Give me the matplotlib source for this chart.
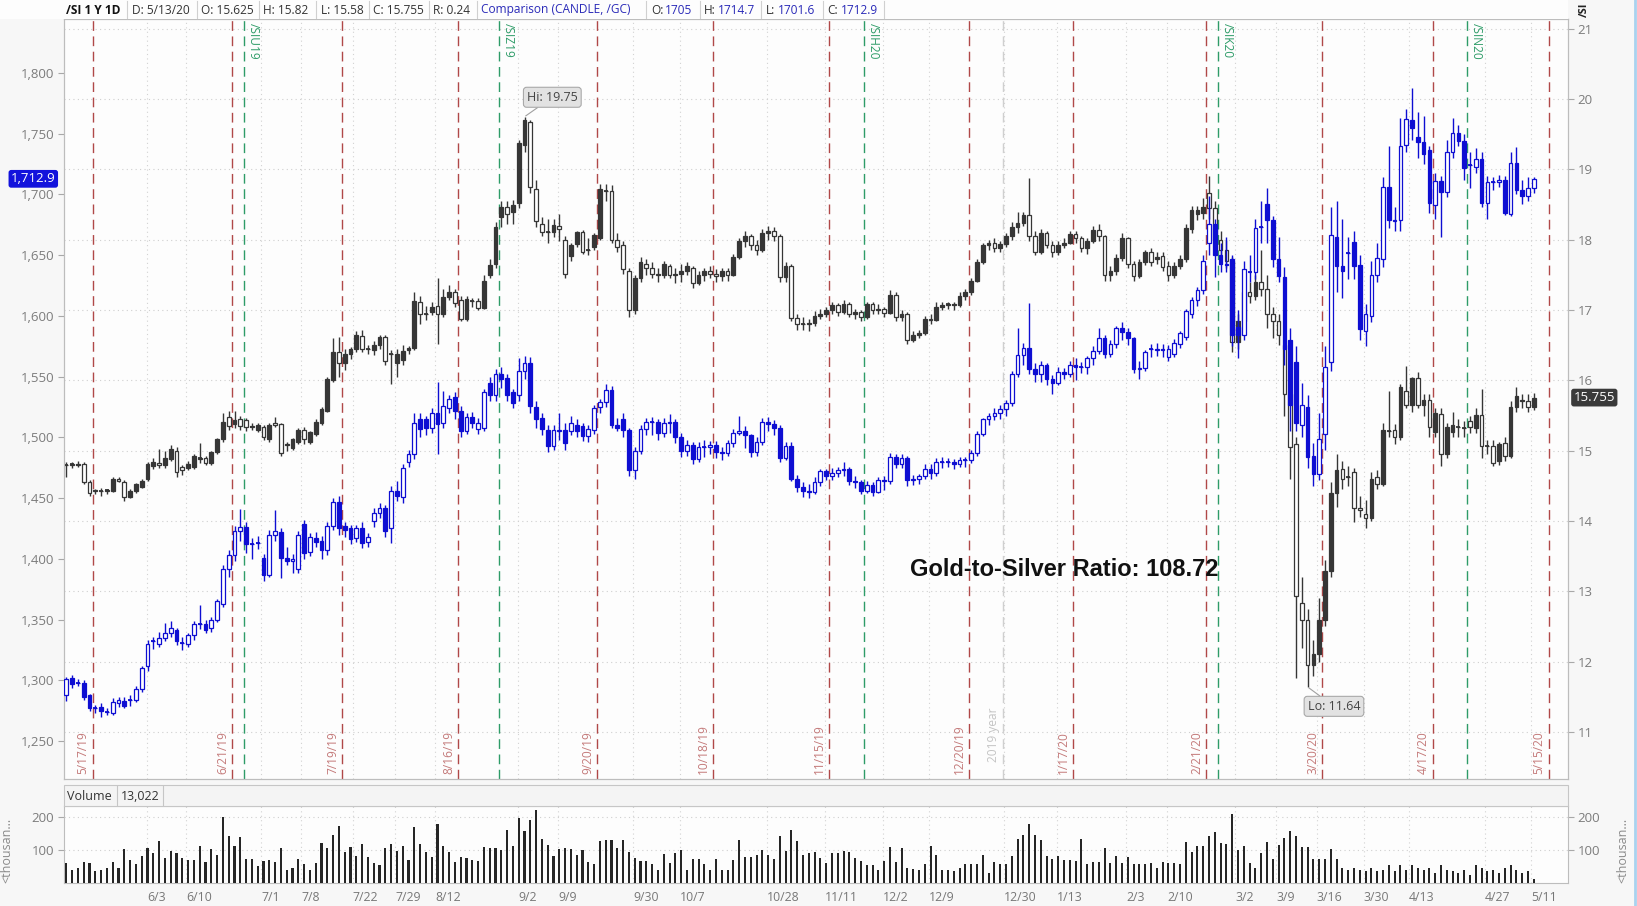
import numpy as np
import pandas as pd
import matplotlib
matplotlib.use("Agg")
import matplotlib.pyplot as plt
import matplotlib.transforms as mtransforms
from matplotlib.lines import Line2D
from matplotlib.patches import Rectangle
from matplotlib.ticker import FuncFormatter

plt.rcParams['font.family'] = ['Open Sans', 'DejaVu Sans']

W, H = 1637, 906

# trading calendar (futures daily bars, exchange holidays removed)
holidays = ['2019-05-27', '2019-07-04', '2019-09-02', '2019-11-28', '2019-12-25',
            '2020-01-01', '2020-01-20', '2020-02-17', '2020-04-10']
days = pd.bdate_range('2019-05-13', '2020-05-15')
days = days[~days.isin(pd.to_datetime(holidays))]

# /SI daily candles
si_open = [
    14.79, 14.80, 14.81, 14.81, 14.56, 14.42, 14.43, 14.43, 14.43, 14.60,
    14.56, 14.34, 14.43, 14.49, 14.59, 14.78, 14.82, 14.79, 14.88, 15.00,
    14.77, 14.75, 14.77, 14.88, 14.89, 14.83, 14.98, 15.16, 15.48, 15.38,
    15.45, 15.43, 15.35, 15.29, 15.34, 15.16, 15.39, 15.38, 15.08, 15.04,
    15.13, 15.29, 15.13, 15.24, 15.40, 15.57, 16.00, 16.40, 16.24, 16.37,
    16.44, 16.63, 16.44, 16.43, 16.50, 16.61, 16.37, 16.24, 16.29, 16.43,
    16.46, 17.12, 16.95, 16.97, 17.06, 16.94, 17.19, 17.26, 17.14, 16.88,
    17.13, 17.13, 17.03, 17.50, 17.65, 18.33, 18.46, 18.40, 18.52, 19.35,
    19.67, 18.72, 18.22, 18.11, 18.11, 18.20, 17.99, 17.77, 17.94, 18.11,
    17.86, 17.89, 18.03, 18.70, 18.69, 17.99, 17.92, 17.56, 17.00, 17.45,
    17.66, 17.60, 17.52, 17.50, 17.62, 17.50, 17.52, 17.55, 17.60, 17.38,
    17.50, 17.55, 17.52, 17.48, 17.55, 17.50, 17.75, 17.98, 18.05, 17.92,
    17.85, 18.10, 18.13, 18.06, 17.47, 17.62, 16.89, 16.80, 16.80, 16.82,
    16.92, 16.95, 17.00, 17.07, 16.97, 17.09, 16.94, 16.97, 16.90, 17.09,
    17.00, 17.02, 16.96, 17.22, 16.90, 16.95, 16.58, 16.65, 16.68, 16.88,
    16.86, 17.05, 17.07, 17.08, 17.07, 17.20, 17.25, 17.42, 17.68, 17.92,
    17.96, 17.88, 17.94, 18.06, 18.18, 18.24, 18.35, 18.05, 17.82, 18.10,
    17.92, 17.82, 17.92, 17.96, 18.08, 18.03, 17.88, 17.98, 18.14, 18.05,
    17.50, 17.56, 17.74, 18.02, 17.66, 17.48, 17.68, 17.82, 17.72, 17.77,
    17.62, 17.50, 17.62, 17.72, 18.15, 18.36, 18.38, 18.66, 18.45, 18.00,
    17.85, 17.70, 16.55, 16.85, 17.25, 17.20, 17.40, 17.30, 16.95, 16.85,
    16.50, 15.80, 15.09, 12.84, 12.59, 11.95, 12.11, 12.59, 13.29, 14.40,
    14.74, 14.63, 14.69, 14.18, 14.10, 14.04, 14.62, 14.53, 15.28, 15.30,
    15.20, 15.85, 15.65, 16.04, 15.65, 15.72, 15.27, 15.52, 14.95, 15.27,
    15.34, 15.32, 15.42, 15.32, 15.51, 15.07, 15.06, 14.85, 15.11, 14.92,
    15.62, 15.70, 15.70, 15.625]
si_high = [
    14.84, 14.84, 14.85, 14.84, 14.58, 14.46, 14.47, 14.46, 14.62, 14.63,
    14.58, 14.45, 14.54, 14.60, 14.84, 14.90, 15.03, 14.99, 15.08, 15.05,
    14.80, 14.85, 14.95, 15.11, 14.92, 15.00, 15.18, 15.54, 15.56, 15.56,
    15.50, 15.47, 15.39, 15.39, 15.37, 15.40, 15.48, 15.40, 15.13, 15.18,
    15.32, 15.33, 15.28, 15.45, 15.62, 16.05, 16.60, 16.62, 16.45, 16.47,
    16.70, 16.71, 16.50, 16.56, 16.65, 16.64, 16.43, 16.45, 16.50, 16.49,
    17.26, 17.20, 17.06, 17.12, 17.45, 17.30, 17.36, 17.30, 17.20, 17.20,
    17.17, 17.17, 17.50, 17.72, 18.25, 18.55, 18.55, 18.56, 19.42, 19.75,
    19.70, 18.85, 18.32, 18.29, 18.30, 18.36, 18.05, 17.95, 18.13, 18.14,
    18.03, 18.10, 18.80, 18.80, 18.78, 18.10, 17.98, 17.60, 17.50, 17.75,
    17.72, 17.68, 17.60, 17.70, 17.66, 17.60, 17.65, 17.68, 17.62, 17.55,
    17.60, 17.62, 17.58, 17.60, 17.60, 17.80, 18.02, 18.12, 18.08, 18.00,
    18.15, 18.20, 18.18, 18.08, 17.68, 17.65, 16.95, 16.90, 16.88, 16.98,
    17.02, 17.05, 17.12, 17.10, 17.15, 17.12, 17.02, 17.00, 17.12, 17.12,
    17.08, 17.05, 17.28, 17.25, 17.00, 16.97, 16.70, 16.72, 16.92, 16.95,
    17.12, 17.12, 17.12, 17.12, 17.25, 17.30, 17.45, 17.72, 17.95, 18.00,
    18.02, 17.98, 18.10, 18.25, 18.40, 18.40, 18.88, 18.12, 18.15, 18.12,
    17.98, 17.98, 18.02, 18.12, 18.12, 18.06, 18.02, 18.20, 18.22, 18.07,
    17.62, 17.80, 18.10, 18.04, 17.70, 17.72, 17.85, 17.88, 17.82, 17.82,
    17.70, 17.68, 17.78, 18.22, 18.48, 18.48, 18.60, 18.91, 18.55, 18.12,
    18.00, 17.75, 16.95, 17.35, 17.40, 17.50, 17.85, 17.50, 17.05, 16.95,
    16.55, 16.00, 15.20, 13.20, 12.75, 12.30, 12.90, 13.45, 14.55, 14.95,
    14.85, 14.78, 14.75, 14.35, 14.30, 14.70, 14.72, 15.40, 15.85, 15.38,
    15.95, 16.20, 16.05, 16.12, 15.80, 15.80, 15.60, 15.60, 15.40, 15.55,
    15.45, 15.42, 15.50, 15.60, 15.88, 15.15, 15.15, 15.12, 15.20, 15.70,
    15.90, 15.80, 15.80, 15.82]
si_low = [
    14.62, 14.76, 14.77, 14.53, 14.36, 14.38, 14.35, 14.38, 14.41, 14.55,
    14.28, 14.32, 14.40, 14.47, 14.57, 14.74, 14.76, 14.75, 14.85, 14.63,
    14.66, 14.72, 14.74, 14.82, 14.79, 14.80, 14.95, 15.12, 15.30, 15.32,
    15.30, 15.28, 15.30, 15.27, 15.15, 15.12, 15.34, 14.93, 14.99, 15.01,
    15.10, 15.10, 15.09, 15.21, 15.37, 15.55, 15.98, 16.05, 16.15, 16.30,
    16.40, 16.40, 16.38, 16.36, 16.45, 16.22, 15.95, 16.05, 16.22, 16.38,
    16.43, 16.80, 16.86, 16.93, 16.52, 16.90, 17.15, 17.05, 16.84, 16.85,
    17.05, 17.00, 17.01, 17.45, 17.60, 18.18, 18.22, 18.22, 18.45, 19.25,
    18.66, 18.18, 18.05, 17.96, 18.04, 17.98, 17.46, 17.70, 17.90, 17.80,
    17.78, 17.86, 18.00, 18.55, 17.95, 17.83, 17.52, 16.90, 16.95, 17.40,
    17.50, 17.45, 17.40, 17.45, 17.45, 17.38, 17.40, 17.50, 17.32, 17.35,
    17.42, 17.45, 17.40, 17.42, 17.42, 17.48, 17.72, 17.90, 17.85, 17.78,
    17.82, 18.00, 17.98, 17.40, 17.40, 16.85, 16.72, 16.72, 16.70, 16.78,
    16.88, 16.90, 16.95, 16.92, 16.94, 16.90, 16.88, 16.85, 16.88, 16.95,
    16.95, 16.90, 16.94, 16.85, 16.84, 16.52, 16.55, 16.60, 16.65, 16.80,
    16.84, 17.00, 17.02, 17.00, 17.05, 17.15, 17.22, 17.40, 17.66, 17.85,
    17.82, 17.82, 17.90, 18.00, 18.10, 18.20, 17.98, 17.78, 17.80, 17.88,
    17.76, 17.78, 17.88, 17.94, 17.96, 17.82, 17.80, 17.95, 17.98, 17.42,
    17.42, 17.50, 17.70, 17.60, 17.42, 17.45, 17.64, 17.62, 17.65, 17.55,
    17.42, 17.45, 17.58, 17.68, 18.10, 18.28, 18.30, 18.30, 17.90, 17.70,
    17.60, 16.40, 16.45, 16.80, 17.10, 17.15, 17.20, 16.75, 16.60, 16.50,
    15.50, 14.60, 11.76, 12.20, 11.64, 11.80, 12.00, 12.50, 13.20, 14.20,
    14.45, 14.50, 13.98, 14.05, 13.90, 14.00, 14.45, 14.50, 15.20, 15.10,
    15.15, 15.60, 15.55, 15.60, 15.50, 15.20, 15.20, 14.78, 14.90, 15.20,
    15.20, 15.20, 15.25, 15.25, 14.90, 14.95, 14.78, 14.80, 14.85, 14.90,
    15.55, 15.60, 15.55, 15.58]
si_close = [
    14.80, 14.81, 14.80, 14.56, 14.40, 14.44, 14.42, 14.44, 14.59, 14.57,
    14.34, 14.43, 14.52, 14.57, 14.81, 14.84, 14.80, 14.90, 15.03, 14.69,
    14.72, 14.81, 14.92, 14.89, 14.82, 14.98, 15.16, 15.41, 15.35, 15.43,
    15.35, 15.34, 15.34, 15.36, 15.19, 15.36, 15.37, 14.97, 15.10, 15.16,
    15.29, 15.16, 15.26, 15.41, 15.59, 16.02, 16.40, 16.24, 16.38, 16.44,
    16.65, 16.44, 16.44, 16.51, 16.61, 16.27, 16.37, 16.37, 16.42, 16.46,
    17.13, 16.94, 16.95, 17.05, 16.94, 17.19, 17.26, 17.10, 16.88, 17.16,
    17.13, 17.03, 17.41, 17.64, 18.18, 18.47, 18.37, 18.50, 19.38, 19.70,
    18.75, 18.27, 18.11, 18.11, 18.21, 18.16, 17.51, 17.92, 18.11, 17.83,
    17.86, 18.07, 18.72, 18.70, 17.99, 17.89, 17.58, 17.00, 17.45, 17.68,
    17.60, 17.52, 17.50, 17.65, 17.50, 17.52, 17.55, 17.62, 17.38, 17.50,
    17.55, 17.52, 17.48, 17.55, 17.50, 17.75, 17.98, 18.05, 17.92, 17.85,
    18.10, 18.13, 18.06, 17.47, 17.62, 16.89, 16.80, 16.80, 16.82, 16.92,
    16.95, 17.00, 17.07, 16.97, 17.09, 16.94, 16.97, 16.90, 17.09, 17.00,
    17.02, 16.96, 17.22, 16.90, 16.95, 16.58, 16.65, 16.68, 16.88, 16.86,
    17.05, 17.07, 17.08, 17.07, 17.20, 17.25, 17.42, 17.68, 17.92, 17.96,
    17.88, 17.94, 18.06, 18.18, 18.24, 18.35, 18.05, 17.82, 18.10, 17.92,
    17.82, 17.92, 17.96, 18.08, 18.03, 17.88, 17.98, 18.14, 18.05, 17.50,
    17.56, 17.74, 18.02, 17.66, 17.48, 17.68, 17.82, 17.69, 17.75, 17.61,
    17.50, 17.62, 17.72, 18.17, 18.42, 18.42, 18.47, 18.45, 18.00, 17.85,
    17.70, 16.55, 16.85, 17.25, 17.20, 17.40, 17.30, 16.95, 16.85, 16.65,
    15.80, 15.05, 12.93, 12.59, 11.95, 12.11, 12.59, 13.29, 14.40, 14.72,
    14.59, 14.62, 14.18, 14.16, 14.04, 14.60, 14.52, 15.30, 15.28, 15.20,
    15.90, 15.65, 16.03, 15.65, 15.72, 15.33, 15.53, 14.95, 15.33, 15.36,
    15.34, 15.32, 15.34, 15.51, 15.06, 15.07, 14.82, 15.09, 14.92, 15.62,
    15.78, 15.72, 15.62, 15.755]

# /GC comparison candles
gc_open = [
    1288, 1302, 1298, 1298, 1288, 1277, 1278, 1274, 1273, 1281,
    1283, 1284, 1284, 1293, 1312, 1332, 1330, 1335, 1339, 1341,
    1331, 1330, 1337, 1346, 1346, 1343, 1350, 1363, 1392, 1403,
    1423, 1426, 1412, 1413, 1401, 1387, 1420, 1422, 1401, 1398,
    1392, 1429, 1406, 1417, 1415, 1407, 1427, 1447, 1427, 1425,
    1417, 1425, 1414, 1431, 1438, 1442, 1425, 1456, 1451, 1480,
    1486, 1515, 1515, 1508, 1520, 1512, 1524, 1533, 1522, 1505,
    1517, 1507, 1508, 1545, 1535, 1552, 1549, 1537, 1535, 1555,
    1561, 1525, 1516, 1506, 1493, 1505, 1506, 1505, 1510, 1509,
    1501, 1506, 1525, 1529, 1539, 1510, 1515, 1506, 1473, 1489,
    1507, 1513, 1513, 1504, 1512, 1513, 1500, 1489, 1494, 1482,
    1492, 1492, 1494, 1488, 1487, 1495, 1504, 1505, 1502, 1488,
    1496, 1513, 1511, 1508, 1483, 1493, 1466, 1459, 1456, 1455,
    1463, 1472, 1468, 1471, 1473, 1474, 1464, 1463, 1456, 1461,
    1455, 1465, 1464, 1484, 1478, 1483, 1465, 1466, 1468, 1474,
    1471, 1480, 1480, 1480, 1478, 1481, 1481, 1487, 1503, 1515,
    1518, 1520, 1523, 1528, 1552, 1568, 1574, 1556, 1552, 1560,
    1548, 1545, 1554, 1552, 1560, 1558, 1558, 1565, 1571, 1582,
    1569, 1577, 1590, 1587, 1582, 1556, 1557, 1573, 1572, 1573,
    1566, 1569, 1577, 1583, 1602, 1613, 1621, 1660, 1676, 1650,
    1643, 1647, 1591, 1584, 1636, 1636, 1673, 1692, 1679, 1647,
    1632, 1580, 1562, 1510, 1525, 1485, 1470, 1503, 1562, 1665,
    1641, 1652, 1661, 1642, 1588, 1600, 1634, 1647, 1706, 1678,
    1679, 1741, 1761, 1747, 1743, 1737, 1691, 1711, 1702, 1735,
    1751, 1744, 1724, 1723, 1729, 1693, 1710, 1710, 1712, 1684,
    1726, 1704, 1699, 1705]
gc_high = [
    1303, 1304, 1301, 1300, 1289, 1280, 1281, 1277, 1285, 1286,
    1286, 1288, 1295, 1312, 1333, 1336, 1340, 1347, 1349, 1343,
    1336, 1339, 1349, 1362, 1350, 1352, 1367, 1395, 1407, 1427,
    1441, 1430, 1417, 1419, 1404, 1424, 1440, 1425, 1410, 1404,
    1423, 1432, 1421, 1422, 1419, 1430, 1450, 1452, 1430, 1428,
    1428, 1430, 1421, 1442, 1446, 1444, 1460, 1464, 1478, 1490,
    1520, 1520, 1518, 1524, 1546, 1538, 1535, 1537, 1526, 1520,
    1521, 1516, 1540, 1550, 1556, 1558, 1552, 1540, 1565, 1567,
    1566, 1530, 1520, 1510, 1510, 1520, 1512, 1518, 1515, 1512,
    1510, 1527, 1532, 1544, 1542, 1516, 1520, 1508, 1492, 1510,
    1516, 1517, 1515, 1516, 1519, 1515, 1504, 1498, 1496, 1496,
    1498, 1497, 1497, 1492, 1498, 1507, 1518, 1509, 1503, 1500,
    1516, 1517, 1514, 1510, 1496, 1496, 1469, 1463, 1462, 1467,
    1474, 1474, 1475, 1476, 1480, 1476, 1468, 1465, 1464, 1463,
    1467, 1468, 1487, 1486, 1486, 1485, 1469, 1470, 1478, 1478,
    1483, 1484, 1483, 1482, 1484, 1484, 1490, 1505, 1516, 1520,
    1524, 1527, 1531, 1555, 1590, 1578, 1611, 1561, 1563, 1561,
    1551, 1558, 1557, 1563, 1565, 1562, 1567, 1575, 1590, 1584,
    1580, 1592, 1595, 1590, 1583, 1563, 1572, 1577, 1578, 1577,
    1576, 1581, 1588, 1606, 1616, 1624, 1650, 1699, 1680, 1660,
    1665, 1650, 1605, 1645, 1650, 1680, 1695, 1705, 1682, 1665,
    1640, 1590, 1575, 1545, 1535, 1495, 1520, 1575, 1690, 1695,
    1680, 1665, 1670, 1650, 1610, 1645, 1660, 1714, 1740, 1690,
    1763, 1770, 1788, 1768, 1765, 1740, 1718, 1715, 1745, 1763,
    1757, 1750, 1735, 1738, 1735, 1715, 1714, 1716, 1715, 1735,
    1739, 1712, 1714, 1714.7]
gc_low = [
    1283, 1294, 1295, 1284, 1275, 1273, 1270, 1271, 1271, 1278,
    1277, 1279, 1282, 1290, 1308, 1326, 1327, 1332, 1336, 1329,
    1325, 1327, 1333, 1342, 1339, 1340, 1348, 1360, 1385, 1398,
    1415, 1405, 1400, 1408, 1382, 1385, 1415, 1384, 1395, 1388,
    1388, 1400, 1402, 1410, 1400, 1403, 1424, 1420, 1418, 1412,
    1414, 1409, 1410, 1426, 1434, 1418, 1413, 1448, 1446, 1476,
    1482, 1500, 1502, 1504, 1486, 1508, 1520, 1515, 1500, 1503,
    1508, 1503, 1505, 1530, 1530, 1541, 1530, 1524, 1530, 1548,
    1520, 1508, 1502, 1488, 1490, 1498, 1490, 1502, 1500, 1497,
    1496, 1503, 1520, 1525, 1508, 1505, 1500, 1468, 1466, 1486,
    1502, 1502, 1498, 1500, 1504, 1495, 1484, 1485, 1478, 1480,
    1484, 1486, 1483, 1481, 1485, 1492, 1502, 1491, 1484, 1485,
    1494, 1505, 1502, 1480, 1481, 1464, 1455, 1451, 1450, 1453,
    1460, 1465, 1465, 1467, 1468, 1461, 1458, 1453, 1454, 1452,
    1454, 1457, 1462, 1475, 1475, 1460, 1461, 1462, 1466, 1466,
    1468, 1475, 1476, 1474, 1476, 1476, 1479, 1485, 1501, 1510,
    1514, 1515, 1518, 1526, 1550, 1560, 1552, 1546, 1546, 1543,
    1536, 1543, 1548, 1550, 1547, 1553, 1552, 1560, 1569, 1565,
    1566, 1574, 1580, 1576, 1553, 1548, 1555, 1566, 1567, 1566,
    1563, 1566, 1574, 1580, 1598, 1608, 1618, 1650, 1632, 1636,
    1636, 1575, 1565, 1580, 1628, 1630, 1660, 1660, 1640, 1628,
    1560, 1505, 1505, 1500, 1475, 1460, 1465, 1490, 1555, 1620,
    1615, 1630, 1630, 1580, 1575, 1595, 1628, 1640, 1672, 1670,
    1670, 1735, 1745, 1730, 1725, 1685, 1680, 1665, 1698, 1730,
    1740, 1712, 1705, 1718, 1690, 1680, 1704, 1706, 1683, 1682,
    1700, 1692, 1695, 1701.6]
gc_close = [
    1301, 1297, 1298, 1286, 1277, 1277, 1275, 1274, 1282, 1284,
    1279, 1284, 1293, 1310, 1330, 1332, 1335, 1339, 1343, 1332,
    1331, 1337, 1346, 1346, 1341, 1350, 1365, 1392, 1403, 1423,
    1426, 1412, 1412, 1413, 1387, 1420, 1423, 1401, 1398, 1400,
    1420, 1405, 1418, 1414, 1407, 1427, 1447, 1425, 1424, 1416,
    1425, 1413, 1418, 1438, 1442, 1423, 1456, 1452, 1475, 1486,
    1512, 1507, 1508, 1520, 1511, 1526, 1532, 1522, 1505, 1517,
    1512, 1512, 1537, 1535, 1552, 1548, 1535, 1528, 1555, 1561,
    1526, 1515, 1507, 1493, 1506, 1506, 1495, 1512, 1505, 1501,
    1507, 1524, 1529, 1539, 1510, 1508, 1506, 1473, 1489, 1507,
    1513, 1513, 1504, 1512, 1513, 1500, 1489, 1494, 1482, 1492,
    1492, 1494, 1488, 1487, 1495, 1504, 1505, 1502, 1488, 1496,
    1513, 1511, 1508, 1483, 1493, 1466, 1459, 1456, 1455, 1463,
    1472, 1468, 1471, 1473, 1474, 1464, 1463, 1456, 1461, 1455,
    1465, 1464, 1484, 1478, 1483, 1465, 1466, 1468, 1474, 1471,
    1480, 1480, 1480, 1478, 1481, 1481, 1487, 1503, 1515, 1518,
    1520, 1523, 1528, 1552, 1568, 1574, 1556, 1552, 1560, 1548,
    1545, 1554, 1552, 1560, 1558, 1558, 1565, 1571, 1582, 1569,
    1577, 1590, 1587, 1582, 1556, 1557, 1570, 1573, 1573, 1572,
    1573, 1578, 1586, 1604, 1613, 1621, 1645, 1676, 1650, 1643,
    1642, 1584, 1584, 1639, 1636, 1672, 1673, 1679, 1647, 1633,
    1573, 1527, 1512, 1527, 1484, 1470, 1499, 1558, 1667, 1641,
    1637, 1652, 1641, 1589, 1602, 1634, 1648, 1706, 1679, 1679,
    1740, 1762, 1755, 1743, 1733, 1693, 1711, 1702, 1735, 1751,
    1744, 1722, 1724, 1729, 1693, 1710, 1710, 1712, 1685, 1726,
    1704, 1699, 1705, 1712.9]

# volume, thousands of contracts
volume = [
    60, 40, 45, 65, 60, 35, 40, 45, 65, 45,
    102, 70, 58, 83, 105, 90, 127, 75, 97, 90,
    75, 70, 70, 112, 63, 103, 85, 199, 142, 112,
    138, 73, 73, 52, 68, 70, 63, 105, 40, 45,
    73, 58, 40, 62, 120, 105, 145, 172, 95, 108,
    82, 117, 80, 60, 55, 105, 117, 97, 112, 70,
    170, 117, 95, 80, 180, 112, 95, 65, 80, 75,
    70, 68, 110, 105, 105, 100, 161, 112, 198, 156,
    192, 222, 134, 115, 83, 103, 105, 102, 85, 100,
    63, 57, 128, 131, 131, 107, 131, 93, 77, 66,
    66, 56, 39, 87, 62, 90, 100, 39, 74, 74,
    59, 39, 72, 39, 39, 69, 131, 78, 80, 85,
    100, 85, 74, 141, 97, 159, 128, 85, 92, 93,
    77, 62, 90, 90, 97, 95, 77, 66, 54, 54,
    40, 67, 110, 63, 105, 45, 42, 38, 59, 112,
    85, 40, 38, 35, 45, 59, 59, 57, 85, 30,
    64, 59, 59, 83, 134, 146, 179, 146, 131, 83,
    74, 83, 71, 69, 66, 134, 59, 64, 64, 105,
    62, 82, 61, 78, 58, 58, 58, 62, 45, 65,
    62, 60, 58, 125, 95, 112, 112, 141, 153, 120,
    117, 209, 101, 112, 62, 45, 92, 123, 74, 115,
    136, 156, 141, 108, 108, 72, 72, 72, 102, 72,
    45, 40, 45, 40, 35, 45, 35, 40, 55, 35,
    55, 40, 55, 45, 40, 45, 30, 55, 40, 35,
    30, 40, 25, 55, 45, 35, 40, 30, 45, 55,
    40, 30, 35, 13]

exp_dates = ['2019-05-17', '2019-06-21', '2019-07-19', '2019-08-16', '2019-09-20',
             '2019-10-18', '2019-11-15', '2019-12-20', '2020-01-17', '2020-02-21',
             '2020-03-20', '2020-04-17', '2020-05-15']
exp_labels = ['5/17/19', '6/21/19', '7/19/19', '8/16/19', '9/20/19', '10/18/19',
              '11/15/19', '12/20/19', '1/17/20', '2/21/20', '3/20/20', '4/17/20', '5/15/20']
roll_dates = ['2019-06-25', '2019-08-27', '2019-11-25', '2020-02-25', '2020-04-27']
roll_labels = ['/SIU19', '/SIZ19', '/SIH20', '/SIK20', '/SIN20']

week_pos = [13.9, 20.6, 33.6, 40.5, 49.4, 56.7, 63.6, 77.9, 84.8, 97.7, 105.8, 120.8,
            130.8, 140.8, 148.7, 161.7, 170.8, 182.7, 189.8, 201.5, 208.6, 215.6,
            223.7, 231.5, 244.6, 252.5]
week_labels = ['6/3', '6/10', '7/1', '7/8', '7/22', '7/29', '8/12', '9/2', '9/9', '9/30',
               '10/7', '10/28', '11/11', '12/2', '12/9', '12/30', '1/13', '2/3', '2/10',
               '3/2', '3/9', '3/16', '3/30', '4/13', '4/27', '5/11']

SI_COL = '#363636'
GC_COL = '#0e0ed2'
RED = '#b04848'
GREEN = '#2e9c68'
TICK_COL = '#7c7c7c'
DOT = (0, (1, 3))


def draw_candles(axis, o, h, l, c, color, up_filled, tol):
    o, h, l, c = (np.asarray(v, dtype=float) for v in (o, h, l, c))
    x = np.arange(len(o))
    axis.vlines(x, l, h, color=color, lw=1.0, zorder=3)
    up = c >= o
    filled = up if up_filled else ~up
    faces = [color if f else 'white' for f in filled]
    axis.bar(x, np.abs(c - o), bottom=np.minimum(o, c), width=0.64, color=faces,
             edgecolor=color, linewidth=0.9, zorder=4)
    flat = np.abs(c - o) < tol
    axis.hlines(c[flat], x[flat] - 0.34, x[flat] + 0.34, color=color, lw=1.3, zorder=5)


def fx(px):
    return px / W


def fy(py):
    return 1 - py / H


fig = plt.figure(figsize=(W / 100, H / 100), dpi=100, facecolor='#f7f7f7')

# header strip
fig.add_artist(Rectangle((0, fy(19)), fx(1568), 19 / H, transform=fig.transFigure,
                         fc='#fdfdfd', ec='none'))
header = [(66, '/SI 1 Y 1D', '#111111', 'bold'), (132, 'D: 5/13/20', '#333333', 'normal'),
          (201, 'O: 15.625', '#333333', 'normal'), (263, 'H: 15.82', '#333333', 'normal'),
          (321, 'L: 15.58', '#333333', 'normal'), (373, 'C: 15.755', '#333333', 'normal'),
          (433, 'R: 0.24', '#333333', 'normal'),
          (481, 'Comparison (CANDLE, /GC)', '#2a2ab8', 'normal'),
          (651, 'O:', '#333333', 'normal'), (665, '1705', '#2a2ab8', 'normal'),
          (704, 'H:', '#333333', 'normal'), (718, '1714.7', '#2a2ab8', 'normal'),
          (766, 'L:', '#333333', 'normal'), (778, '1701.6', '#2a2ab8', 'normal'),
          (827, 'C:', '#333333', 'normal'), (841, '1712.9', '#2a2ab8', 'normal')]
for hx, txt, col, wt in header:
    fig.text(fx(hx), fy(10), txt, color=col, fontweight=wt, fontsize=8.6,
             ha='left', va='center')
for sx in [127, 197, 259, 316, 369, 429, 477, 646, 700, 761, 823, 884]:
    fig.add_artist(Line2D([fx(sx), fx(sx)], [fy(1), fy(18)], transform=fig.transFigure,
                          color='#d0d0d0', lw=0.8))

# main price panel: /SI on the right scale, /GC on the left scale
ax = fig.add_axes([fx(64), fy(779), (1568 - 64) / W, (779 - 19) / H])
ax.set_facecolor('#fdfdfd')
axg = ax.twinx()
ax.yaxis.tick_right()
axg.yaxis.tick_left()
ax.set_xlim(-0.4, 258.9)
ax.set_ylim(10.33, 21.14)
axg.set_ylim(1218.7, 1844.5)

ax.set_yticks(range(11, 22))
axg.set_yticks(np.arange(1250, 1801, 50))
axg.yaxis.set_major_formatter(FuncFormatter(lambda v, p: f'{v:,.0f}'))
ax.grid(axis='y', color='#cfcfcf', linestyle=DOT, lw=0.8)
ax.set_axisbelow(True)
ax.set_xticks([])
for a in (ax, axg):
    a.tick_params(axis='y', length=4, color='#a8a8a8', labelcolor=TICK_COL,
                  labelsize=9.5, pad=3)
    for sp in a.spines.values():
        sp.set_color('#bdbdbd')
        sp.set_linewidth(0.8)

for wx in week_pos:
    ax.axvline(wx, color='#d2d2d2', linestyle=DOT, lw=0.8, zorder=1)

bottom_tr = mtransforms.blended_transform_factory(ax.transData, ax.transAxes)
for d, lab in zip(exp_dates, exp_labels):
    xv = days.get_loc(pd.Timestamp(d)) + 0.55
    ax.axvline(xv, color=RED, linestyle=(0, (7, 4)), lw=1.0, zorder=2)
    ax.text(xv, 0.006, lab, transform=mtransforms.offset_copy(bottom_tr, fig=fig, x=-3, y=0, units='dots'),
            rotation=90, ha='right', va='bottom', color='#c47a7a', fontsize=8.6)
for d, lab in zip(roll_dates, roll_labels):
    xv = days.get_loc(pd.Timestamp(d)) + 0.55
    ax.axvline(xv, color=GREEN, linestyle=(0, (7, 4)), lw=1.0, zorder=2)
    ax.text(xv, 0.995, lab, transform=mtransforms.offset_copy(bottom_tr, fig=fig, x=3, y=0, units='dots'),
            rotation=270, ha='left', va='top', color=GREEN, fontsize=8.6)
year_x = days.get_loc(pd.Timestamp('2020-01-02')) - 0.45
ax.axvline(year_x, color='#cfcfcf', linestyle=(0, (7, 4)), lw=1.0, zorder=2)
ax.text(year_x, 0.022, '2019 year', transform=mtransforms.offset_copy(bottom_tr, fig=fig, x=-3, y=0, units='dots'),
        rotation=90, ha='right', va='bottom', color='#c4c4c4', fontsize=8.6)

draw_candles(ax, si_open, si_high, si_low, si_close, SI_COL, True, 0.012)
draw_candles(axg, gc_open, gc_high, gc_low, gc_close, GC_COL, False, 1.0)

callout = dict(boxstyle='round,pad=0.28,rounding_size=0.25', fc='#e2e2e2', ec='#a9a9a9', lw=0.8)
hi_i = int(np.argmax(si_high))
lo_i = int(np.argmin(si_low))
ax.annotate(f'Hi: {si_high[hi_i]:.2f}', xy=(hi_i, si_high[hi_i]), xytext=(20, 14),
            textcoords='offset points', ha='center', va='center', fontsize=9,
            color='#444444', bbox=callout, zorder=8,
            arrowprops=dict(arrowstyle='-', color='#a0a0a0', lw=0.8, shrinkA=0, shrinkB=1))
ax.annotate(f'Lo: {si_low[lo_i]:.2f}', xy=(lo_i, si_low[lo_i]), xytext=(19, -14),
            textcoords='offset points', ha='center', va='center', fontsize=9,
            color='#444444', bbox=callout, zorder=8,
            arrowprops=dict(arrowstyle='-', color='#a0a0a0', lw=0.8, shrinkA=0, shrinkB=1))

fig.text(fx(910), fy(569), 'Gold-to-Silver Ratio: 108.72', family=['Liberation Sans', 'DejaVu Sans'],
         fontweight='bold', fontsize=17, color='#111111', ha='left', va='center')

# last-price bubbles
axg.annotate(f'{gc_close[-1]:,.1f}', xy=(0, gc_close[-1]), xycoords=('axes fraction', 'data'),
             xytext=(-6, 0), textcoords='offset points', ha='right', va='center',
             color='white', fontsize=9.5, zorder=10, annotation_clip=False,
             bbox=dict(boxstyle='round,pad=0.18,rounding_size=0.2', fc='#1212dc', ec='none'))
ax.annotate(f'{si_close[-1]:.3f}', xy=(1, si_close[-1]), xycoords=('axes fraction', 'data'),
            xytext=(4, 0), textcoords='offset points', ha='left', va='center',
            color='white', fontsize=9.5, zorder=10, annotation_clip=False,
            bbox=dict(boxstyle='round,pad=0.18,rounding_size=0.2', fc='#3a3a3a', ec='none'))

# right-axis symbol label at the top edge
fig.text(fx(1584), fy(17), '/SI', rotation=90, ha='center', va='bottom',
         fontsize=8, fontweight='bold', color='#222222')

# volume header
fig.add_artist(Rectangle((fx(64), fy(806)), (1568 - 64) / W, 21 / H, transform=fig.transFigure,
                         fc='#f4f4f4', ec='#c6c6c6', lw=0.8))
fig.text(fx(67), fy(796), 'Volume', fontsize=9, color='#333333', ha='left', va='center')
fig.text(fx(121), fy(796), '13,022', fontsize=9, color='#333333', ha='left', va='center')
for sx in [117, 163]:
    fig.add_artist(Line2D([fx(sx), fx(sx)], [fy(786), fy(805)], transform=fig.transFigure,
                          color='#c6c6c6', lw=0.8))

# volume panel
axv = fig.add_axes([fx(64), fy(883), (1568 - 64) / W, (883 - 806) / H])
axv.set_facecolor('#fdfdfd')
axv.bar(np.arange(len(volume)), volume, width=0.36, color='#262626', zorder=3)
axv.set_xlim(ax.get_xlim())
axv.set_ylim(0, 233)
axv.set_yticks([100, 200])
axv.tick_params(axis='y', left=True, right=True, labelleft=True, labelright=True,
                length=4, color='#a8a8a8', labelcolor=TICK_COL, labelsize=9.5, pad=3)
axv.grid(axis='y', color='#cfcfcf', linestyle=DOT, lw=0.8)
for wx in week_pos:
    axv.axvline(wx, color='#d2d2d2', linestyle=DOT, lw=0.8, zorder=1)
axv.set_xticks(week_pos)
axv.set_xticklabels(week_labels)
axv.tick_params(axis='x', length=0, pad=6, labelsize=8.8, labelcolor='#777777')
for lbl in axv.get_xticklabels():
    lbl.set_ha('left')
for sp in axv.spines.values():
    sp.set_color('#bdbdbd')
    sp.set_linewidth(0.8)

fig.text(fx(7), fy(850), '<thousan...', rotation=90, ha='center', va='center',
         fontsize=9, color='#8a8a8a')
fig.text(fx(1623), fy(850), '<thousan...', rotation=90, ha='center', va='center',
         fontsize=9, color='#8a8a8a')
fig.add_artist(Line2D([fx(1635), fx(1635)], [0, 1], transform=fig.transFigure,
                      color='#a9d2ef', lw=2.0))

fig.savefig('out.png', dpi=100, facecolor=fig.get_facecolor())
